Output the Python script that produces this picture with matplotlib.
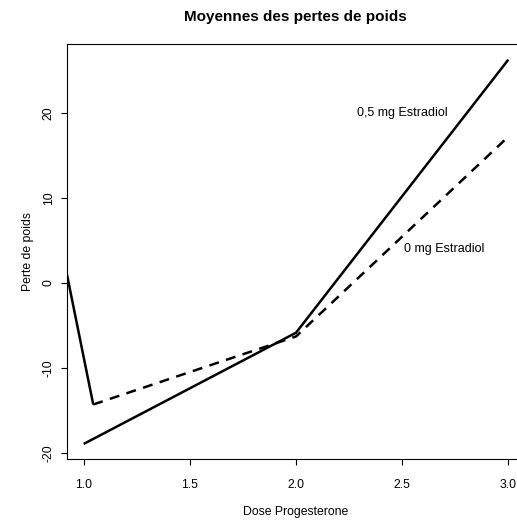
import matplotlib
matplotlib.use("Agg")
import matplotlib.pyplot as plt

# Data
dose = [1.0, 2.0, 3.0]
estradiol_05 = [-18.94, -5.86, 26.26]
dose_0 = [1.045, 2.0, 3.0]
estradiol_0 = [-14.3, -6.3, 17.2]
extra_x = [0.9, 1.045]
extra_y = [3.6, -14.3]

xticks = [1.0, 1.5, 2.0, 2.5, 3.0]
xticklabels = ["1.0", "1.5", "2.0", "2.5", "3.0"]
yticks = [-20, -10, 0, 10, 20]
yticklabels = ["-20", "-10", "0", "10", "20"]

plt.rcParams['font.family'] = ['Liberation Sans', 'DejaVu Sans']

W, H = 517, 521
fig = plt.figure(figsize=(W / 100, H / 100), dpi=100)
ax = fig.add_axes([66.7 / W, 1 - 459.3 / H, 458.6 / W, (459.3 - 44.3) / H])

lw = 1.8
ax.plot(dose, estradiol_05, color='black', lw=lw, solid_capstyle='butt')
ax.plot(dose_0, estradiol_0, color='black', lw=lw, dashes=(4, 3), dash_capstyle='butt')
ax.plot(extra_x, extra_y, color='black', lw=lw, solid_capstyle='butt')

x0, x1 = min(dose), max(dose)
dx = (x1 - x0) * 0.04
ax.set_xlim(x0 - dx, x1 + dx)
y0, y1 = min(estradiol_05), max(estradiol_05)
dy = (y1 - y0) * 0.04
ax.set_ylim(y0 - dy, y1 + dy)

fs = 8.8
ax.set_xticks(xticks)
ax.set_xticklabels(xticklabels, fontsize=fs)
ax.set_yticks(yticks)
ax.set_yticklabels(yticklabels, fontsize=fs, rotation=90, va='center')
ax.tick_params(axis='both', direction='out', length=4.5, width=0.8, color='black')
ax.tick_params(axis='x', pad=10)
ax.tick_params(axis='y', pad=4)
for s in ax.spines.values():
    s.set_linewidth(0.8)
    s.set_color('black')

ax.text(2.5, 20, '0,5 mg Estradiol', ha='center', va='center', fontsize=9)
ax.text(2.7, 4, '0 mg Estradiol', ha='center', va='center', fontsize=9)

fig.text(295.5 / W, 1 - 17 / H, 'Moyennes des pertes de poids', ha='center', va='center',
         fontsize=11, fontweight='bold')
fig.text(295.5 / W, 1 - 512.3 / H, 'Dose Progesterone', ha='center', va='center', fontsize=fs)
fig.text(28 / W, 1 - 251.8 / H, 'Perte de poids', ha='center', va='center', fontsize=fs, rotation=90)

fig.savefig('out.png', dpi=100)
